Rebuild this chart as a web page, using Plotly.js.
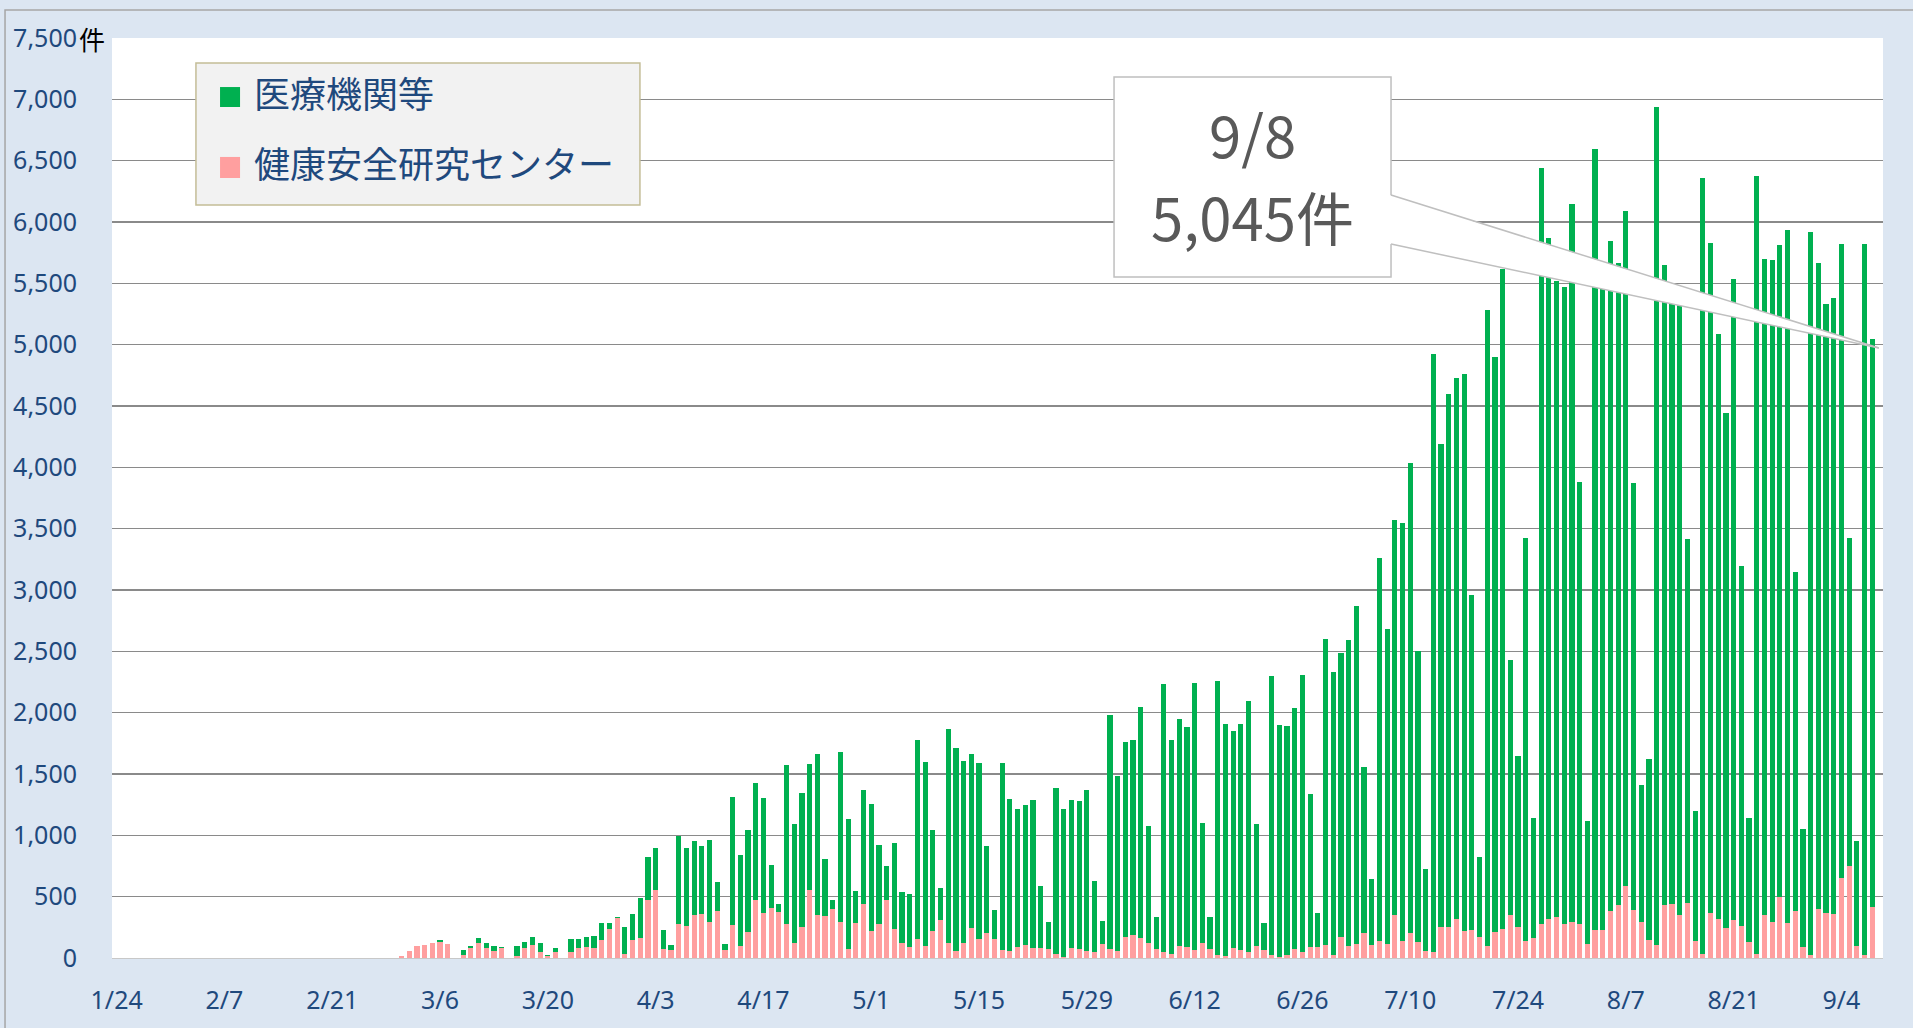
<!DOCTYPE html>
<html>
<head>
<meta charset="utf-8">
<script src="https://cdn.plot.ly/plotly-3.0.1.min.js"></script>
<style>html,body{margin:0;padding:0;background:#dce6f2;}#chart{width:1913px;height:1028px;}</style>
</head>
<body>
<div id="chart"></div>
<script>
// Categories: daily dates 1/24 .. 9/8
const dates = [
"1/24","1/25","1/26","1/27","1/28","1/29","1/30","1/31",
"2/1","2/2","2/3","2/4","2/5","2/6","2/7","2/8","2/9","2/10","2/11","2/12","2/13","2/14","2/15","2/16","2/17","2/18","2/19","2/20","2/21","2/22","2/23","2/24","2/25","2/26","2/27","2/28","2/29",
"3/1","3/2","3/3","3/4","3/5","3/6","3/7","3/8","3/9","3/10","3/11","3/12","3/13","3/14","3/15","3/16","3/17","3/18","3/19","3/20","3/21","3/22","3/23","3/24","3/25","3/26","3/27","3/28","3/29","3/30","3/31",
"4/1","4/2","4/3","4/4","4/5","4/6","4/7","4/8","4/9","4/10","4/11","4/12","4/13","4/14","4/15","4/16","4/17","4/18","4/19","4/20","4/21","4/22","4/23","4/24","4/25","4/26","4/27","4/28","4/29","4/30",
"5/1","5/2","5/3","5/4","5/5","5/6","5/7","5/8","5/9","5/10","5/11","5/12","5/13","5/14","5/15","5/16","5/17","5/18","5/19","5/20","5/21","5/22","5/23","5/24","5/25","5/26","5/27","5/28","5/29","5/30","5/31",
"6/1","6/2","6/3","6/4","6/5","6/6","6/7","6/8","6/9","6/10","6/11","6/12","6/13","6/14","6/15","6/16","6/17","6/18","6/19","6/20","6/21","6/22","6/23","6/24","6/25","6/26","6/27","6/28","6/29","6/30",
"7/1","7/2","7/3","7/4","7/5","7/6","7/7","7/8","7/9","7/10","7/11","7/12","7/13","7/14","7/15","7/16","7/17","7/18","7/19","7/20","7/21","7/22","7/23","7/24","7/25","7/26","7/27","7/28","7/29","7/30","7/31",
"8/1","8/2","8/3","8/4","8/5","8/6","8/7","8/8","8/9","8/10","8/11","8/12","8/13","8/14","8/15","8/16","8/17","8/18","8/19","8/20","8/21","8/22","8/23","8/24","8/25","8/26","8/27","8/28","8/29","8/30","8/31",
"9/1","9/2","9/3","9/4","9/5","9/6","9/7","9/8"
];

// 健康安全研究センター (pink, bottom)
const centerJanFeb = [0,0,0,0,0,0,0,0, 0,0,0,0,0,0,0,0,0,0,0,0,0,0,0,0,0,0,0,0,0,0,0,0,0,0,0,0,0];
const centerMar = [14,60,100,106,125,133,114,0,24,79,125,84,60,84,0,14,79,106,52,14,52,0,52,79,92,84,150,239,326,35,150];
const centerApr = [160,476,552,75,65,280,258,350,356,291,380,65,269,98,209,473,367,410,372,274,125,255,554,351,340,399,293,71,288,437];
const centerMay = [217,277,473,239,120,87,155,100,223,307,125,57,122,245,155,204,155,68,54,90,103,82,82,73,30,11,84,76,60,49,114];
const centerJun = [71,57,174,188,163,122,73,52,35,98,87,68,120,73,27,19,82,65,49,101,68,22,11,24,73,49,87,87,106,22];
const centerJul = [168,100,117,201,106,139,114,351,141,207,128,60,46,250,250,321,223,231,174,98,212,236,351,250,139,163,277,321,332,277,296];
const centerAug = [277,114,231,231,383,432,587,391,291,144,106,429,438,351,446,136,30,367,318,242,313,264,133,30,353,291,497,283,383,90,22];
const centerSep = [402,370,356,655,753,98,24,416];

// 医療機関等 (green, top)
const medicalJanFeb = [0,0,0,0,0,0,0,0, 0,0,0,0,0,0,0,0,0,0,0,0,0,0,0,0,0,0,0,0,0,0,0,0,0,0,0,0,0];
const medicalMar = [0,0,0,0,0,17,0,0,44,19,41,38,35,2,0,84,49,68,73,8,27,0,100,79,82,95,138,49,5,220,209];
const medicalApr = [326,345,347,153,41,715,636,601,557,668,237,46,1041,739,834,951,935,351,68,1297,965,1093,1028,1309,467,74,1386,1059,255,935];
const medicalMay = [1038,644,274,696,415,437,1622,1500,820,261,1745,1652,1481,1421,1432,712,239,1519,1239,1122,1144,1203,505,220,1356,1204,1201,1204,1310,579,185];
const medicalJun = [1907,1427,1587,1592,1886,951,264,2182,1742,1848,1799,2171,981,264,2228,1889,1766,1840,2043,991,215,2274,1889,1871,1967,2256,1252,281,2498,2307];
const medicalJul = [2322,2491,2752,1359,539,3123,2567,3216,3406,3830,2376,668,4877,3942,4348,4411,4537,2732,650,5185,4691,5382,2081,1399,3284,975,6160,5546,5187,5192,5852];
const medicalAug = [3607,1006,6364,5329,5461,5231,5506,3480,1123,1478,6828,5221,4962,4999,2969,1061,6326,5463,4770,4204,5219,2929,1010,6344,5347,5399,5318,5651,2760,962,5898];
const medicalSep = [5265,4962,5026,5162,2670,853,5793,4629];

const seriesNames = ["医療機関等", "健康安全研究センター"];
const xTickLabels = ["1/24","2/7","2/21","3/6","3/20","4/3","4/17","5/1","5/15","5/29","6/12","6/26","7/10","7/24","8/7","8/21","9/4"];
const yTickValues = [0,500,1000,1500,2000,2500,3000,3500,4000,4500,5000,5500,6000,6500,7000,7500];
const unitLabel = "件";

const center = [].concat(centerJanFeb, centerMar, centerApr, centerMay, centerJun, centerJul, centerAug, centerSep);
const medical = [].concat(medicalJanFeb, medicalMar, medicalApr, medicalMay, medicalJun, medicalJul, medicalAug, medicalSep);

const GREEN = "#00b050";
const PINK = "#ff9f9f";
const TEXTBLUE = "#1f497d";
const FONT = '"Noto Sans CJK JP", "Noto Sans", sans-serif';
const NUMFONT = '"Noto Sans", "Noto Sans CJK JP", sans-serif';

const traces = [
  {type:"bar", name:seriesNames[1], x:dates, y:center, marker:{color:PINK}, hovertemplate:"%{x}: %{y}件<extra>"+seriesNames[1]+"</extra>"},
  {type:"bar", name:seriesNames[0], x:dates, y:medical, marker:{color:GREEN}, hovertemplate:"%{x}: %{y}件<extra>"+seriesNames[0]+"</extra>"}
];

const last = dates.length - 1;
const lastTotal = center[last] + medical[last];
const calloutDate = dates[last];
const calloutValue = lastTotal.toLocaleString("en-US") + unitLabel;

const yTickText = yTickValues.map(v => v.toLocaleString("en-US"));

const layout = {
  width:1913, height:1028,
  margin:{l:112, r:30, t:38, b:70, pad:0},
  paper_bgcolor:"#dce6f2",
  plot_bgcolor:"#ffffff",
  barmode:"stack",
  bargap:0.32,
  showlegend:false,
  font:{family:FONT, color:TEXTBLUE},
  xaxis:{
    type:"category", range:[-0.6, 229.4],
    tickmode:"array", tickvals:xTickLabels, ticktext:xTickLabels,
    ticks:"", showgrid:false, zeroline:false,
    showline:true, linecolor:"#c8c8c8", linewidth:1,
    tickfont:{size:25, color:TEXTBLUE, family:NUMFONT},
    ticklabelstandoff:20, fixedrange:true
  },
  yaxis:{
    range:[0,7500], tickmode:"array", tickvals:yTickValues, ticktext:yTickText,
    ticks:"", showgrid:true, gridcolor:"#8a8a8a", gridwidth:1.6, zeroline:false,
    showline:false,
    tickfont:{size:25, color:TEXTBLUE, family:NUMFONT},
    ticklabelstandoff:34, fixedrange:true
  },
  shapes:[
    // outer frame
    {type:"rect", xref:"paper", yref:"paper", x0:-0.0604, x1:1.02, y0:-0.09, y1:1.0304, line:{color:"#a6a6a6", width:1.5}, fillcolor:"rgba(0,0,0,0)", layer:"below"},
    // legend box
    {type:"rect", xref:"paper", yref:"paper", x0:0.0474, x1:0.2981, y0:0.8185, y1:0.9728, line:{color:"#c4bd97", width:1.5}, fillcolor:"#f2f2f2", layer:"above"},
    {type:"rect", xref:"paper", yref:"paper", x0:0.0610, x1:0.0723, y0:0.925, y1:0.9467, line:{width:0}, fillcolor:GREEN, layer:"above"},
    {type:"rect", xref:"paper", yref:"paper", x0:0.0610, x1:0.0723, y0:0.8478, y1:0.8707, line:{width:0}, fillcolor:PINK, layer:"above"},
    // callout box
    {type:"rect", xref:"paper", yref:"paper", x0:0.5658, x1:0.7222, y0:0.7402, y1:0.9576, line:{color:"#bfbfbf", width:1.5}, fillcolor:"#ffffff", layer:"above"},
    // callout wedge
    {type:"path", xref:"paper", yref:"paper", path:"M 0.7215 0.8293 L 0.9977 0.6630 L 0.7215 0.7761 Z", line:{width:0}, fillcolor:"#ffffff", layer:"above"},
    {type:"line", xref:"paper", yref:"paper", x0:0.7222, y0:0.8293, x1:0.9977, y1:0.6630, line:{color:"#bfbfbf", width:1.5}, layer:"above"},
    {type:"line", xref:"paper", yref:"paper", x0:0.7222, y0:0.7761, x1:0.9977, y1:0.6630, line:{color:"#bfbfbf", width:1.5}, layer:"above"}
  ],
  annotations:[
    {xref:"paper", yref:"paper", x:0.0791, y:0.941, xanchor:"left", yanchor:"middle", showarrow:false, text:seriesNames[0], font:{size:36, color:TEXTBLUE, family:FONT}},
    {xref:"paper", yref:"paper", x:0.0791, y:0.865, xanchor:"left", yanchor:"middle", showarrow:false, text:seriesNames[1], font:{size:36, color:TEXTBLUE, family:FONT}},
    {xref:"paper", yref:"paper", x:0.644, y:0.8965, xanchor:"center", yanchor:"middle", showarrow:false, text:calloutDate, font:{size:58, color:"#595959", family:FONT}},
    {xref:"paper", yref:"paper", x:0.644, y:0.806, xanchor:"center", yanchor:"middle", showarrow:false, text:calloutValue, font:{size:58, color:"#595959", family:FONT}},
    {xref:"paper", yref:"paper", x:-0.0195, y:1.0, xanchor:"left", yanchor:"middle", showarrow:false, text:unitLabel, font:{size:26, color:"#000000", family:FONT}}
  ]
};

Plotly.newPlot("chart", traces, layout, {displayModeBar:false, staticPlot:true});
</script>
</body>
</html>
